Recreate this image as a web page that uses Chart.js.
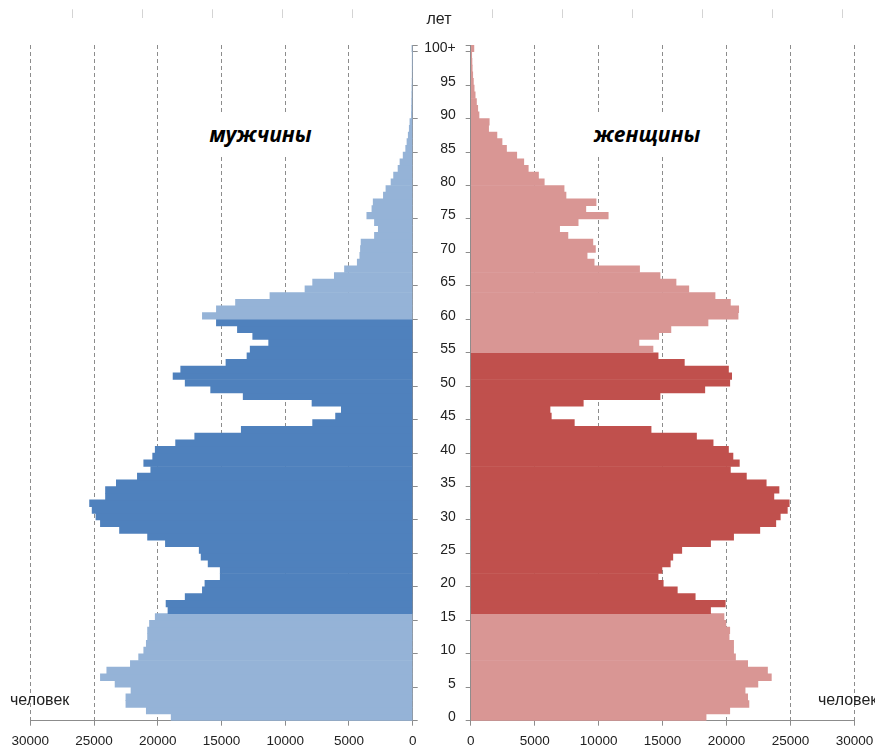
<!DOCTYPE html>
<html>
<head>
<meta charset="utf-8">
<script src="https://cdn.jsdelivr.net/npm/chart.js@4.4.0/dist/chart.umd.min.js"></script>
<style>
    html, body { margin: 0; padding: 0; background: #fff; overflow: hidden; }
    #wrap { position: relative; width: 875px; height: 749px; }
    canvas { position: absolute; left: 0; top: 0; }
    .lbl { position: absolute; font: 16px "Liberation Sans", Arial, sans-serif; line-height: 16px; color: #222; white-space: nowrap; }
    .title { position: absolute; top: 113px; height: 42px; line-height: 42px; background: #fff; text-align: center;
             font: italic bold 21px "Open Sans", sans-serif; color: #000; }
</style>
</head>
<body>
<div id="wrap">
    <canvas id="top-ticks" width="875" height="749"></canvas>
    <canvas id="men-chart" width="875" height="749"></canvas>
    <canvas id="women-chart" width="875" height="749"></canvas>
    <div class="title" style="left:203px; width:115px; line-height:42px;">мужчины</div>
    <div class="title" style="left:588px; width:118px; line-height:42px;">женщины</div>
    <div class="lbl" style="left:409px; top:11px; width:60px; text-align:center;">лет</div>
    <div class="lbl" style="left:10px; top:692px;">человек</div>
    <div class="lbl" style="left:818px; top:692px;">человек</div>
</div>
<script>
const el = (id) => document.getElementById(id);

// ages 0..99, 100+
const ages = Array.from({ length: 101 }, (_, i) => (i === 100 ? '100+' : String(i)));

// persons by single year of age
const men = [
    18950, 20900, 22500, 22500, 22100, 23350, 24500, 24000, 22150, 21500,
    21100, 20900, 20800, 20800, 20650, 20200, 19200, 19350, 17850, 16500,
    16300, 15100, 15100, 16050, 16600, 16750, 19400, 20800, 23000, 24500,
    24850, 25150, 25350, 24100, 24100, 23250, 21600, 20550, 21100, 20400,
    20200, 18600, 17100, 13450, 7850, 6050, 5600, 7900, 13300, 15850,
    17850, 18800, 18200, 14650, 13000, 12750, 11300, 12550, 13750, 15400,
    16500, 15400, 13900, 11200, 8450, 7850, 6150, 5350, 4350, 4150,
    4100, 4050, 3000, 2700, 3000, 3600, 3200, 3100, 2300, 2100,
    1700, 1500, 1150, 1000, 750, 550, 450, 350, 270, 220,
    100, 90, 80, 70, 60, 50, 40, 30, 25, 20,
    60
];
const women = [
    18400, 20250, 21750, 21650, 21450, 22450, 23500, 23200, 21650, 20700,
    20550, 20550, 20200, 20250, 19950, 19800, 18750, 19900, 17550, 16150,
    15050, 14650, 14950, 15600, 15800, 16500, 18750, 20550, 22600, 23850,
    24200, 24750, 24900, 23700, 24100, 23100, 21550, 20300, 21000, 20500,
    20150, 18950, 17650, 14100, 8100, 6300, 6200, 8800, 14800, 18300,
    20250, 20400, 20150, 16700, 14650, 14250, 13150, 14700, 15650, 18550,
    20900, 20950, 20300, 19100, 17050, 16050, 14800, 13200, 9650, 9100,
    9750, 9550, 7600, 6950, 8400, 10750, 9000, 9800, 7450, 7300,
    5750, 5300, 4500, 4150, 3600, 2800, 2450, 2050, 1400, 1450,
    650, 550, 450, 350, 270, 210, 160, 120, 100, 80,
    250
];

// working ages shown in the darker shade
const menWork = [16, 59];
const womenWork = [16, 54];

const xTicks = [0, 5000, 10000, 15000, 20000, 25000, 30000];

const GRID = '#8c8c8c';
const tickFont = { family: '"Liberation Sans", Arial, sans-serif', size: 13.5 };
const ageFont = { family: '"Liberation Sans", Arial, sans-serif', size: 14 };

// only every 5th age boundary gets a tick mark
const ageTickColor = (ctx) => (ctx.index === undefined || ctx.index % 5 === 0 ? GRID : 'rgba(0,0,0,0)');

function shade(range, dark, light) {
    return (ctx) => (ctx.dataIndex >= range[0] && ctx.dataIndex <= range[1] ? dark : light);
}

function xScale(reverse) {
    return {
        type: 'linear',
        min: xTicks[0],
        max: xTicks[xTicks.length - 1],
        reverse: reverse,
        afterBuildTicks: (s) => { s.ticks = xTicks.map((v) => ({ value: v })); },
        ticks: { font: tickFont, color: '#222', padding: 7, maxRotation: 0, callback: (v) => String(v) },
        grid: { color: GRID, tickLength: 5, tickBorderDash: [], tickColor: GRID },
        border: { color: GRID, dash: [4, 3] },
        // keep the plot edges where the padding puts them
        afterFit: (s) => { s.height = 28; s.paddingLeft = 0; s.paddingRight = 0; }
    };
}

function pyramidHalf(canvasId, values, colors, side) {
    const left = side === 'left';
    return new Chart(el(canvasId).getContext('2d'), {
        type: 'bar',
        data: {
            labels: ages,
            datasets: [{
                data: values,
                backgroundColor: colors,
                borderWidth: 0,
                barPercentage: 1,
                categoryPercentage: 1
            }]
        },
        options: {
            indexAxis: 'y',
            animation: false,
            responsive: false,
            events: [],
            layout: {
                padding: left
                    ? { left: 30.3, right: 442.3, top: 45, bottom: 0.3 }
                    : { left: 400, right: 20.5, top: 45, bottom: 0.3 }
            },
            plugins: { legend: { display: false }, tooltip: { enabled: false } },
            scales: {
                x: xScale(left),
                y: {
                    position: left ? 'right' : 'left',
                    reverse: true,
                    ticks: {
                        display: !left,
                        autoSkip: false,
                        font: ageFont,
                        color: '#222',
                        padding: 10,
                        callback: (v, i) => (i % 5 === 0 ? ages[i] : '')
                    },
                    grid: { drawOnChartArea: false, tickLength: 5, color: ageTickColor },
                    border: { color: GRID },
                    afterFit: (s) => { s.width = left ? 20 : 70.7; }
                }
            }
        }
    });
}

pyramidHalf('men-chart', men, shade(menWork, '#4F81BD', '#95B3D7'), 'left');
pyramidHalf('women-chart', women, shade(womenWork, '#C0504D', '#D99694'), 'right');

// faint tick row along the top edge
const topTickCount = 12;
new Chart(el('top-ticks').getContext('2d'), {
    type: 'scatter',
    data: { datasets: [{ data: [] }] },
    options: {
        animation: false,
        responsive: false,
        events: [],
        layout: { padding: { left: 2.7, right: 32.3, top: 9.3, bottom: 600 } },
        plugins: { legend: { display: false }, tooltip: { enabled: false } },
        scales: {
            x: {
                type: 'linear',
                position: 'top',
                min: 0,
                max: topTickCount,
                ticks: { stepSize: 1, display: false },
                grid: {
                    drawOnChartArea: false,
                    tickLength: 9,
                    color: (ctx) => (ctx.index === 0 || ctx.index === 6 ? 'rgba(0,0,0,0)' : '#d4d4d4')
                },
                border: { display: false },
                afterFit: (s) => { s.height = 9; }
            },
            y: { display: false }
        }
    }
});
</script>
</body>
</html>
